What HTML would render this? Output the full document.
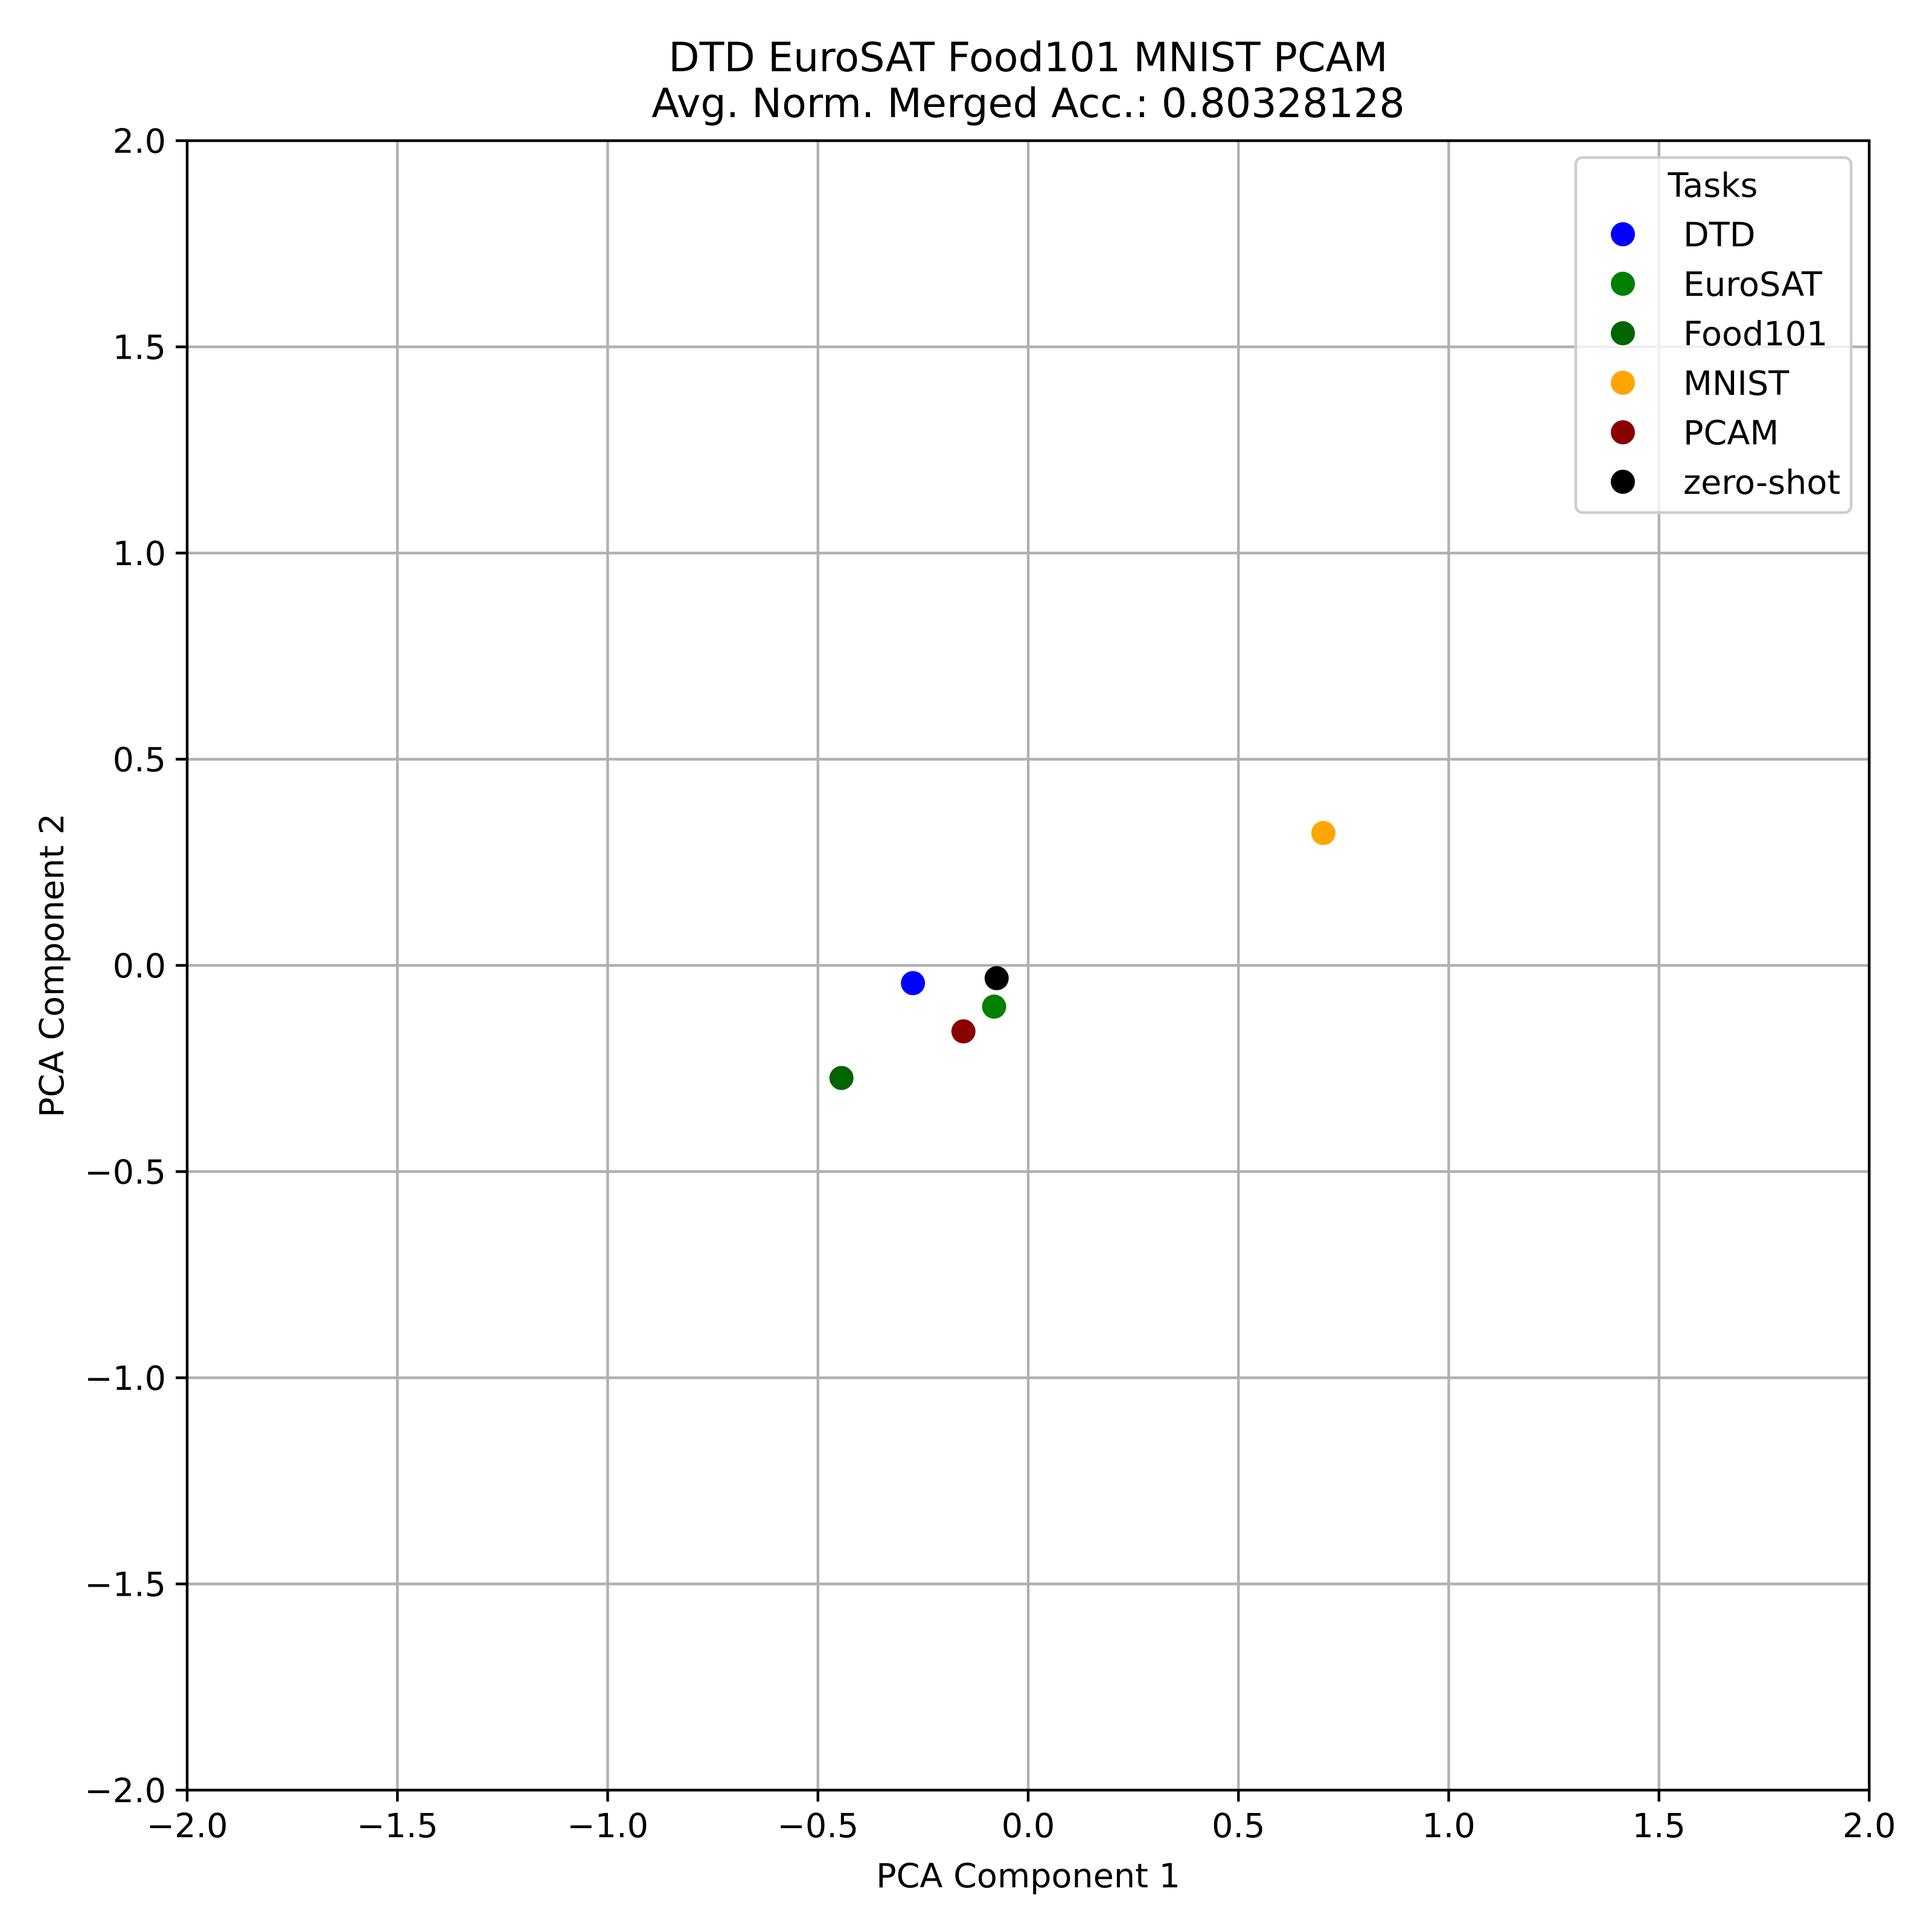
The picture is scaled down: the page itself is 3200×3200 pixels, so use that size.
<!DOCTYPE html>
<html><head><meta charset="utf-8"><style>
html,body{margin:0;padding:0;background:#fff}
svg{display:block;font-family:"DejaVu Sans","Liberation Sans",sans-serif}
</style></head><body>
<svg id="chart" width="3200" height="3200" viewBox="0 0 3200 3200" xmlns="http://www.w3.org/2000/svg">
<rect width="3200" height="3200" fill="#fff"/>
<text x="1703" y="118" font-size="66.7" text-anchor="middle">DTD EuroSAT Food101 MNIST PCAM</text>
<text x="1703" y="194" font-size="66.7" text-anchor="middle">Avg. Norm. Merged Acc.: 0.80328128</text>
<g id="grid"></g>
<g id="ticks"></g>
<rect x="310" y="233" width="2786" height="2732" fill="none" stroke="#000" stroke-width="4.4"/>
<g id="points"></g>
<text x="1703" y="3126" font-size="55.6" text-anchor="middle">PCA Component 1</text>
<text x="0" y="0" font-size="55.6" text-anchor="middle" transform="translate(105,1599) rotate(-90)">PCA Component 2</text>
<g>
<rect x="2610" y="261" width="456" height="588" rx="11" fill="#fff" fill-opacity="0.8" stroke="#ccc" stroke-width="4.4"/>
<text x="2837" y="326" font-size="55.6" text-anchor="middle">Tasks</text>
<g id="legend-items"></g>
</g>
</svg>
<script>
const tasks = ["DTD","EuroSAT","Food101","MNIST","PCAM","zero-shot"];
const colors = ["#0000ff","#008000","#006400","#ffa500","#8b0000","#000000"];
const xVals = [-0.274,-0.081,-0.444,0.702,-0.154,-0.075];
const yVals = [-0.043,-0.100,-0.273,0.321,-0.160,-0.031];
const tickVals = [-2,-1.5,-1,-0.5,0,0.5,1,1.5,2];
const tickLabels = ["\u22122.0","\u22121.5","\u22121.0","\u22120.5","0.0","0.5","1.0","1.5","2.0"];
const L=310,R=3096,T=233,B=2965;
const sx=v=>L+(v+2)/4*(R-L);
const sy=v=>B-(v+2)/4*(B-T);
const NS="http://www.w3.org/2000/svg";
function mk(tag,attrs,parent){const e=document.createElementNS(NS,tag);for(const k in attrs)e.setAttribute(k,attrs[k]);parent.appendChild(e);return e;}
const grid=document.getElementById('grid'),ticks=document.getElementById('ticks');
tickVals.forEach((v,i)=>{
  const gx=mk('line',{x1:sx(v),x2:sx(v),y1:T,y2:B,stroke:'#b0b0b0','stroke-width':4.4},grid);
  
  
  const gy=mk('line',{x1:L,x2:R,y1:sy(v),y2:sy(v),stroke:'#b0b0b0','stroke-width':4.4},grid);
  
  
  mk('line',{x1:sx(v),x2:sx(v),y1:B,y2:B+19,stroke:'#000','stroke-width':4.4},ticks);
  mk('line',{x1:L-19,x2:L,y1:sy(v),y2:sy(v),stroke:'#000','stroke-width':4.4},ticks);
  const tx=mk('text',{x:sx(v),y:B+78,'font-size':55.6,'text-anchor':'middle'},ticks);
  tx.textContent=tickLabels[i];
  
  
  const ty=mk('text',{x:L-35,y:sy(v)+20,'font-size':55.6,'text-anchor':'end'},ticks);
  ty.textContent=tickLabels[i];
  
  
});
const pts=document.getElementById('points'),leg=document.getElementById('legend-items');
tasks.forEach((t,i)=>{
  const c=mk('circle',{cx:sx(xVals[i]),cy:sy(yVals[i]),r:20,fill:colors[i]},pts);
  
  
  const y=388+i*82;
  const m=mk('circle',{cx:2688,cy:y,r:20,fill:colors[i]},leg);
  
  
  const tx=mk('text',{x:2788,y:y+20,'font-size':55.6},leg);
  tx.textContent=t;
  
  
});
</script>
</body></html>
